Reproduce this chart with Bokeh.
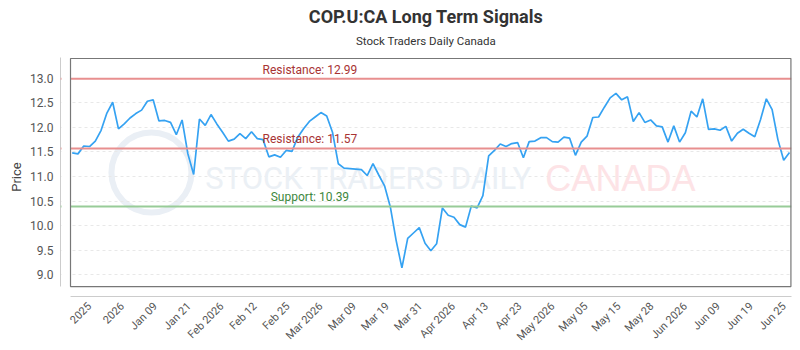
from math import pi

from bokeh.plotting import figure
from bokeh.layouts import column
from bokeh.models import (Range1d, FixedTicker, CustomJSTickFormatter, NumeralTickFormatter,
                          Span, Label)
from bokeh.embed import file_html
from bokeh.resources import INLINE

# ---- chart data -------------------------------------------------------------
title_text = "COP.U:CA Long Term Signals"
subtitle_text = "Stock Traders Daily Canada"

prices = [
    11.48, 11.46, 11.62, 11.61, 11.72, 11.94, 12.29, 12.51, 11.97, 12.07,
    12.19, 12.28, 12.35, 12.53, 12.56, 12.13, 12.14, 12.10, 11.85, 12.15,
    11.46, 11.04, 12.17, 12.04, 12.26, 12.07, 11.90, 11.72, 11.76, 11.87,
    11.77, 11.91, 11.77, 11.75, 11.40, 11.44, 11.39, 11.53, 11.51, 11.80,
    11.97, 12.12, 12.21, 12.30, 12.23, 11.90, 11.26, 11.17, 11.16, 11.15,
    11.14, 11.02, 11.26, 11.03, 10.81, 10.38, 9.70, 9.14, 9.74, 9.85,
    9.96, 9.64, 9.49, 9.63, 10.36, 10.21, 10.17, 10.02, 9.97, 10.40,
    10.36, 10.61, 11.42, 11.53, 11.66, 11.61, 11.67, 11.69, 11.38, 11.71,
    11.72, 11.79, 11.79, 11.71, 11.70, 11.80, 11.78, 11.43, 11.70, 11.82,
    12.20, 12.21, 12.41, 12.60, 12.69, 12.56, 12.62, 12.12, 12.30, 12.10,
    12.15, 12.03, 12.01, 11.70, 12.03, 11.70, 11.89, 12.33, 12.21, 12.58,
    11.96, 11.97, 11.94, 12.02, 11.72, 11.88, 11.96, 11.88, 11.81, 12.16,
    12.58, 12.36, 11.75, 11.33, 11.49,
]

x_tick_positions = [3.0, 8.7, 14.4, 20.2, 25.9, 31.6, 37.3, 43.0, 48.8, 54.5, 60.2,
                    65.9, 71.6, 77.4, 83.1, 88.8, 94.5, 100.2, 106.0, 111.7, 117.4, 123.1]
x_tick_labels = ["2025", "2026", "Jan 09", "Jan 21", "Feb 2026", "Feb 12", "Feb 25",
                 "Mar 2026", "Mar 09", "Mar 19", "Mar 31", "Apr 2026", "Apr 13", "Apr 23",
                 "May 2026", "May 05", "May 15", "May 28", "Jun 2026", "Jun 09", "Jun 19",
                 "Jun 25"]
y_ticks = [9.0, 9.5, 10.0, 10.5, 11.0, 11.5, 12.0, 12.5, 13.0]

resistance_levels = [12.99, 11.57]
support_levels = [10.39]

idx = list(range(len(prices)))

# ---- layout sizes -------------------------------------------------------------
W = 800
HEADER_H = 57
CHART_H = 350 - HEADER_H

# ---- header (title + subtitle) ----------------------------------------------------
header = figure(width=W, height=HEADER_H, output_backend="svg", toolbar_location=None,
                x_range=Range1d(0, W), y_range=Range1d(0, HEADER_H),
                x_axis_type=None, y_axis_type=None, min_border=0,
                background_fill_color="white", border_fill_color="white")
header.outline_line_color = None
header.grid.visible = False
header.add_layout(Label(x=W / 2, y=HEADER_H - 16, text=title_text, text_align="center",
                        text_baseline="middle", text_font="Roboto", text_font_size="18px",
                        text_font_style="bold", text_color="#333333"))
header.add_layout(Label(x=W / 2, y=HEADER_H - 40, text=subtitle_text, text_align="center",
                        text_baseline="middle", text_font="Roboto", text_font_size="11.5px",
                        text_color="#333333"))

# ---- price chart --------------------------------------------------------------------
X0, X1 = -2.02, len(prices) - 1 + 0.35
Y0, Y1 = 8.558, 13.421
BOX_LEFT, BOX_BOTTOM = -0.29, 8.76

p = figure(width=W, height=CHART_H, output_backend="svg", toolbar_location=None,
           x_range=Range1d(X0, X1), y_range=Range1d(Y0, Y1),
           min_border_left=60, min_border_right=9, min_border_top=0, min_border_bottom=54,
           background_fill_color="white", border_fill_color="white")
p.outline_line_color = None

# grid
p.xgrid.visible = False
p.ygrid.ticker = FixedTicker(ticks=y_ticks)
p.ygrid.grid_line_color = "#e8e8e8"
p.ygrid.grid_line_dash = "3 3"

# y axis
p.yaxis.ticker = FixedTicker(ticks=y_ticks)
p.yaxis.formatter = NumeralTickFormatter(format="0.0")
p.yaxis.bounds = (BOX_BOTTOM, Y1)
p.yaxis.axis_line_color = "#cccccc"
p.yaxis.major_tick_line_color = None
p.yaxis.minor_tick_line_color = None
p.yaxis.major_tick_out = 0
p.yaxis.major_tick_in = 0
p.yaxis.major_label_text_color = "#555555"
p.yaxis.major_label_text_font = "Roboto"
p.yaxis.major_label_text_font_size = "12px"
p.yaxis.major_label_standoff = 7
p.yaxis.axis_label = "Price"
p.yaxis.axis_label_text_font = "Roboto"
p.yaxis.axis_label_text_font_size = "13px"
p.yaxis.axis_label_text_font_style = "normal"
p.yaxis.axis_label_text_color = "#444444"
p.yaxis.axis_label_standoff = 3

# x axis
p.xaxis.ticker = FixedTicker(ticks=x_tick_positions)
p.xaxis.formatter = CustomJSTickFormatter(args=dict(labels=x_tick_labels),
                                          code="return labels[index];")
p.xaxis.bounds = (BOX_LEFT, X1)
p.xaxis.axis_line_color = "#cccccc"
p.xaxis.major_tick_line_color = None
p.xaxis.minor_tick_line_color = None
p.xaxis.major_tick_out = 0
p.xaxis.major_tick_in = 0
p.xaxis.major_label_orientation = pi / 4
p.xaxis.major_label_text_color = "#555555"
p.xaxis.major_label_text_font = "Roboto"
p.xaxis.major_label_text_font_size = "11px"
p.xaxis.major_label_standoff = 8

# watermark
p.scatter(x=[13.7], y=[11.08], size=80, marker="circle", fill_color=None,
          line_color="#eaeff5", line_width=6, level="underlay")
p.add_layout(Label(x=23.0, y=10.96, text="STOCK TRADERS DAILY", text_baseline="middle",
                   text_font="Roboto", text_font_size="31px",
                   text_color="#ebf0f5", level="underlay"))
p.add_layout(Label(x=81.8, y=10.96, text="CANADA", text_baseline="middle",
                   text_font="Liberation Sans", text_font_size="36px",
                   text_color="#fde3e6", level="underlay"))

# signal levels
for lvl in resistance_levels:
    p.add_layout(Span(location=lvl, dimension="width", line_color="#e88f8f", line_width=2))
    p.add_layout(Label(x=41.1, y=lvl, text=f"Resistance: {lvl:.2f}", text_align="center",
                       text_baseline="bottom", y_offset=2, text_font="Roboto",
                       text_font_size="12px", text_color="#a83333"))
for lvl in support_levels:
    p.add_layout(Span(location=lvl, dimension="width", line_color="#98cc98", line_width=2))
    p.add_layout(Label(x=41.1, y=lvl, text=f"Support: {lvl:.2f}", text_align="center",
                       text_baseline="bottom", y_offset=2, text_font="Roboto",
                       text_font_size="12px", text_color="#3d873d"))

# price line
p.line(idx, prices, line_color="#35a2f2", line_width=1.7)

# keep the strip between the axis line and the plot box clear
p.quad(left=-1.85, right=BOX_LEFT - 0.05, bottom=Y0, top=Y1, fill_color="white",
       line_color=None, level="overlay")

# plot box
p.quad(left=BOX_LEFT, right=X1 - 0.1, bottom=BOX_BOTTOM, top=Y1 - 0.02,
       fill_color=None, line_color="#777777", line_width=1.2, level="overlay")

page = column(header, p, spacing=0)
open("out.html", "w").write(file_html(page, INLINE))
